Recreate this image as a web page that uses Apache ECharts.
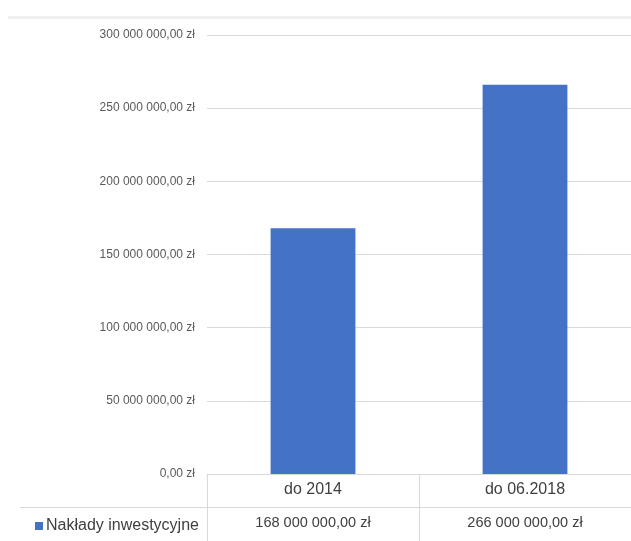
<!DOCTYPE html>
<html>
<head>
<meta charset="utf-8">
<script src="https://cdn.jsdelivr.net/npm/echarts@6/dist/echarts.min.js"></script>
<style>
html,body{margin:0;padding:0;background:#fff;}
#c{width:631px;height:541px;}
</style>
</head>
<body>
<div id="c"></div>
<script>
var categories = ['do 2014', 'do 06.2018'];
var seriesName = 'Nakłady inwestycyjne';
var values = [168000000, 266000000];
var yTicks = [0, 50000000, 100000000, 150000000, 200000000, 250000000, 300000000];

function fmt(v) {
  var s = String(Math.round(v));
  s = s.replace(/\B(?=(\d{3})+(?!\d))/g, ' ');
  return s + ',00 zł';
}

var FONT = 'Liberation Sans';
var chart = echarts.init(document.getElementById('c'));
chart.setOption({
  animation: false,
  backgroundColor: '#ffffff',
  textStyle: { fontFamily: FONT },
  grid: { left: 207, right: -4, top: 35, bottom: 67, containLabel: false },
  legend: {
    data: [seriesName],
    left: 30, top: 513,
    icon: 'rect', itemWidth: 8, itemHeight: 8, itemGap: 4,
    textStyle: { fontFamily: FONT, fontSize: 16, color: '#404040', padding: [0, 0, 0, -2] }
  },
  xAxis: [{
    type: 'category',
    data: categories,
    position: 'bottom',
    axisLine: { show: true, lineStyle: { color: '#d9d9d9', width: 1 } },
    axisTick: { show: true, length: 67, interval: 0, lineStyle: { color: '#d9d9d9', width: 1 } },
    axisLabel: { fontFamily: FONT, fontSize: 16, color: '#404040', margin: 8 },
    splitLine: { show: false }
  }, {
    type: 'category',
    data: values.map(fmt),
    position: 'bottom',
    offset: 33,
    axisLine: { show: true, lineStyle: { color: '#d9d9d9', width: 1 } },
    axisTick: { show: false },
    axisLabel: { fontFamily: FONT, fontSize: 14.5, color: '#404040', margin: 8 },
    splitLine: { show: false }
  }],
  yAxis: {
    type: 'value',
    min: yTicks[0],
    max: yTicks[yTicks.length - 1],
    interval: yTicks[1] - yTicks[0],
    axisLine: { show: false },
    axisTick: { show: false },
    axisLabel: { fontFamily: FONT, fontSize: 12, color: '#595959', margin: 12, formatter: function (v) { return fmt(v); } },
    splitLine: { show: true, lineStyle: { color: '#d9d9d9', width: 1 } }
  },
  graphic: [
    { type: 'line', shape: { x1: 20, y1: 507.5, x2: 207, y2: 507.5 }, style: { stroke: '#d9d9d9', lineWidth: 1 } },
    { type: 'rect', shape: { x: 8, y: 16, width: 623, height: 3 }, style: { fill: '#f0f0f0' } }
  ],
  series: [{
    name: seriesName,
    type: 'bar',
    xAxisIndex: 0,
    data: values,
    barWidth: '40%',
    itemStyle: { color: '#4472C4' }
  }]
});
</script>
</body>
</html>
